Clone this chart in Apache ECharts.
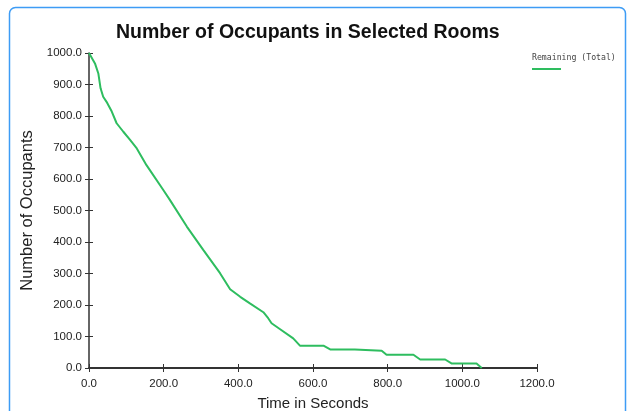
<!DOCTYPE html>
<html>
<head>
<meta charset="utf-8">
<script src="https://cdn.jsdelivr.net/npm/echarts@6/dist/echarts.min.js"></script>
<style>
  html, body { margin: 0; padding: 0; background: #fff; }
  #main { width: 630px; height: 411px; }
</style>
</head>
<body>
<div id="main"></div>
<script>
// time (s) and remaining occupants
const times = [0, 16, 25, 31, 38, 47, 61, 74, 92, 110, 128, 154, 199, 217, 262, 306, 351, 378, 405, 431, 467, 480, 489, 512, 547, 565, 628, 646, 712, 717, 784, 797, 869, 887, 954, 972, 1038, 1052];
const occupants = [1000, 967, 935, 888, 861, 845, 814, 777, 750, 724, 697, 644, 565, 533, 449, 375, 301, 250, 226, 205, 177, 158, 142, 123, 94, 71, 71, 59, 59, 55, 55, 42, 42, 27, 27, 14, 14, 0];
const seriesName = 'Remaining (Total)';

const chart = echarts.init(document.getElementById('main'));
const fmt = v => v.toFixed(1);
const labelFont = { color: '#222', fontSize: 11.5, fontFamily: 'Liberation Sans' };

chart.setOption({
    animation: false,
    title: {
        text: 'Number of Occupants in Selected Rooms',
        left: 111,
        top: 18,
        textStyle: { fontFamily: 'Liberation Sans', fontWeight: 'bold', fontSize: 19.5, color: '#111' }
    },
    graphic: [
        {
            type: 'rect',
            shape: { x: 9.5, y: 7.5, width: 616, height: 440, r: 6 },
            style: { fill: 'none', stroke: '#3d9cf5', lineWidth: 1.5 },
            silent: true
        },
        {
            type: 'text',
            left: 532, top: 54,
            style: { text: seriesName, fontFamily: 'DejaVu Sans Mono', fontSize: 8.2, fill: '#444' }
        },
        {
            type: 'line',
            shape: { x1: 532, y1: 69, x2: 561, y2: 69 },
            style: { stroke: '#2ebd5f', lineWidth: 2 }
        }
    ],
    grid: { left: 89, right: 93, top: 53, bottom: 43, outerBoundsMode: 'none', containLabel: false },
    xAxis: [{
        type: 'value',
        min: 0, max: 1200, interval: 200,
        name: 'Time in Seconds',
        nameLocation: 'middle',
        nameGap: 28,
        nameTextStyle: { fontSize: 15, color: '#222', fontFamily: 'Liberation Sans' },
        axisLine: { show: true, lineStyle: { color: '#333', width: 2 } },
        axisTick: { show: true, length: 4, lineStyle: { color: '#333' } },
        axisLabel: Object.assign({ formatter: fmt, margin: 10 }, labelFont),
        splitLine: { show: false }
    }, {
        type: 'value',
        min: 0, max: 1200, interval: 200,
        position: 'bottom',
        axisLine: { show: false },
        axisTick: { show: true, inside: true, length: 4, lineStyle: { color: '#333' } },
        axisLabel: { show: false },
        splitLine: { show: false }
    }],
    yAxis: [{
        type: 'value',
        min: 0, max: 1000, interval: 100,
        name: 'Number of Occupants',
        nameLocation: 'middle',
        nameGap: 52,
        nameTextStyle: { fontSize: 16.5, color: '#222', fontFamily: 'Liberation Sans' },
        axisLine: { show: true, lineStyle: { color: '#333', width: 1.5 } },
        axisTick: { show: true, length: 4, lineStyle: { color: '#333' } },
        axisLabel: Object.assign({ formatter: fmt, margin: 7 }, labelFont),
        splitLine: { show: false }
    }, {
        type: 'value',
        min: 0, max: 1000, interval: 100,
        position: 'left',
        axisLine: { show: false },
        axisTick: { show: true, inside: true, length: 4, lineStyle: { color: '#333' } },
        axisLabel: { show: false },
        splitLine: { show: false }
    }],
    series: [{
        name: seriesName,
        type: 'line',
        showSymbol: false,
        lineStyle: { color: '#2ebd5f', width: 2 },
        data: times.map((t, i) => [t, occupants[i]])
    }]
});
</script>
</body>
</html>
